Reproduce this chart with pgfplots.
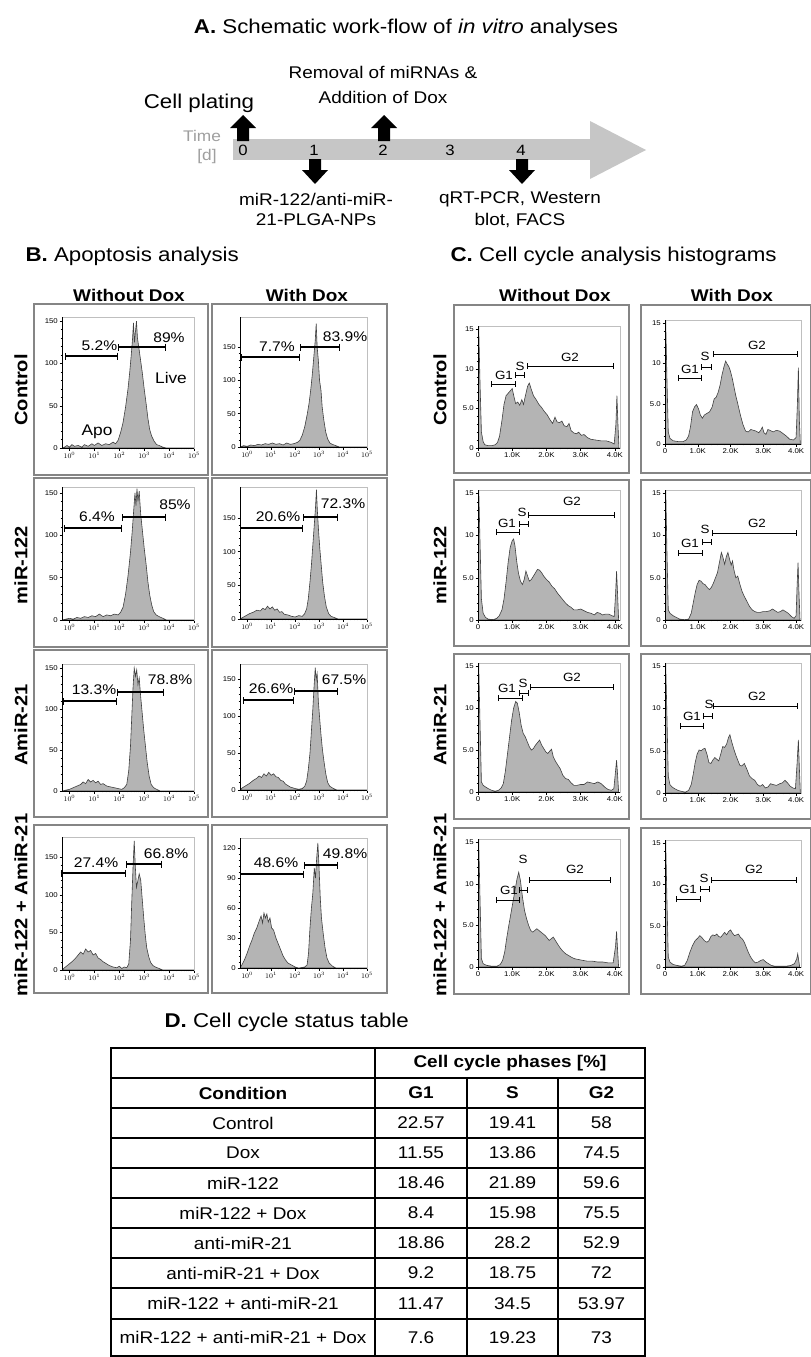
\documentclass[border=0pt]{standalone}
\usepackage{fontspec}
\setmainfont{Liberation Sans}[FakeStretch=1.12]
\usepackage{pgfplots}
\pgfplotsset{compat=1.18}
\usetikzlibrary{arrows.meta}
\definecolor{histfill}{HTML}{B4B4B4}
\definecolor{histline}{HTML}{404040}
\definecolor{boxgray}{HTML}{858585}
\definecolor{bandgray}{HTML}{C6C6C6}
\newcommand\fs[1]{\fontsize{#1}{#1}\selectfont}
\newcommand\blackaxes{\draw[black,line width=0.5pt] (rel axis cs:0,1) -- (rel axis cs:0,0) -- (rel axis cs:1,0);}
\pgfplotsset{
  hbase/.style={scale only axis, anchor=south west,
    axis line style={gray!50,line width=0.4pt},
    tick pos=left, tick align=outside,
    major tick length=2.5bp, minor tick length=1.4bp,
    tick style={black,line width=0.4pt},
    tick label style={font=\fs{7}, inner sep=1.5pt}},
  flowB/.style={hbase, xmin=-0.3, xmax=5.0, ymin=0,
    xtick={0,1,2,3,4,5},
    xticklabels={$10^{0}$,$10^{1}$,$10^{2}$,$10^{3}$,$10^{4}$,$10^{5}$},
    minor xtick={0.301,0.477,0.602,0.699,0.778,0.845,0.903,0.954,1.301,1.477,1.602,1.699,1.778,1.845,1.903,1.954,2.301,2.477,2.602,2.699,2.778,2.845,2.903,2.954,3.301,3.477,3.602,3.699,3.778,3.845,3.903,3.954,4.301,4.477,4.602,4.699,4.778,4.845,4.903,4.954},
    minor y tick num=4},
  cycC/.style={hbase, xmin=0, xmax=4.15, ymin=0, ymax=15.4,
    xtick={0,1,2,3,4}, xticklabels={0,1.0K,2.0K,3.0K,4.0K},
    ytick={0,5,10,15}, yticklabels={0,5.0,10,15},
    minor x tick num=4, minor y tick num=4},
  histo/.style={fill=histfill, draw=histline, line width=0.6pt},
}
\begin{document}
\begin{tikzpicture}
\useasboundingbox (0,0) rectangle (811bp,-1357bp);
\fill[white] (0,0) rectangle (811bp,-1357bp);
\begin{scope}[x=1bp,y=-1bp]
% ---------- A: schematic ----------
\node[font=\fs{20}] at (406,28) {\textbf{A.} Schematic work-flow of \textit{in vitro} analyses};
\fill[bandgray] (233,139) rectangle (591,160);
\fill[bandgray] (590,121) -- (646,150) -- (590,179) -- cycle;
\foreach \cx in {243,384} {
  \fill[black] (\cx-6,141) -- (\cx-6,128) -- (\cx-13,128) -- (\cx,115) -- (\cx+13,128) -- (\cx+6,128) -- (\cx+6,141) -- cycle;}
\foreach \cx in {315,522} {
  \fill[black] (\cx-6,159) -- (\cx-6,170) -- (\cx-13,170) -- (\cx,184) -- (\cx+13,170) -- (\cx+6,170) -- (\cx+6,159) -- cycle;}
\node[font=\fs{17}] at (383,72) {Removal of miRNAs \&};
\node[font=\fs{17}] at (383,97) {Addition of Dox};
\node[font=\fs{20}] at (199,103) {Cell plating};
\node[font=\fs{15.5}, text=gray!75] at (202,136) {Time};
\node[font=\fs{15.5}, text=gray!75] at (207,157) {[d]};
\node[font=\fs{15}] at (243,150) {0};
\node[font=\fs{15}] at (314,150) {1};
\node[font=\fs{15}] at (383,150) {2};
\node[font=\fs{15}] at (450,150) {3};
\node[font=\fs{15}] at (521,150) {4};
\node[font=\fs{17}] at (316,199) {miR-122/anti-miR-};
\node[font=\fs{17}] at (316,220) {21-PLGA-NPs};
\node[font=\fs{17}] at (520,199) {qRT-PCR, Western};
\node[font=\fs{17}] at (520,220) {blot, FACS};
% ---------- B / C headers ----------
\node[font=\fs{20}, anchor=west] at (22,256) {\textbf{B.} Apoptosis analysis};
\node[font=\fs{20}, anchor=west] at (447,256) {\textbf{C.} Cell cycle analysis histograms};
\node[font=\bfseries\fs{17}] at (129,295) {Without Dox};
\node[font=\bfseries\fs{17}] at (307,295) {With Dox};
\node[font=\bfseries\fs{17}] at (555,295) {Without Dox};
\node[font=\bfseries\fs{17}] at (732,295) {With Dox};
\foreach \xx in {21,440} {
\node[rotate=90, font=\bfseries\fs{18}] at (\xx,390) {Control};
\node[rotate=90, font=\bfseries\fs{18}] at (\xx,565) {miR-122};
\node[rotate=90, font=\bfseries\fs{18}] at (\xx,725) {AmiR-21};
\node[rotate=90, font=\bfseries\fs{18}] at (\xx,905) {miR-122 + AmiR-21};}
% panel boxes
\foreach \ya/\yb in {304/475,478/647,650/817,825/993} {
  \draw[boxgray, line width=1.3] (34,\ya) rectangle (208,\yb);
  \draw[boxgray, line width=1.3] (212,\ya) rectangle (387,\yb);}
\foreach \ya/\yb in {305/473,480/646,654/819,828/994} {
  \draw[boxgray, line width=1.3] (454,\ya) rectangle (629,\yb);
  \draw[boxgray, line width=1.3] (641,\ya) rectangle (810.3,\yb);}
% ---------- D: table ----------
\node[font=\fs{20}, anchor=west] at (161,1022) {\textbf{D.} Cell cycle status table};
\draw[black, line width=1.5] (111,1048) rectangle (645,1356);
\foreach \yy in {1078,1108,1138,1168,1198,1228,1258,1288,1319} {\draw[black, line width=1.5] (111,\yy) -- (645,\yy);}
\draw[black, line width=1.5] (375,1048) -- (375,1356);
\draw[black, line width=1.5] (467,1078) -- (467,1356);
\draw[black, line width=1.5] (558,1078) -- (558,1356);
\node[font=\bfseries\fs{17}] at (510,1063) {Cell cycle phases [\%]};
\node[font=\bfseries\fs{17}] at (243,1093) {Condition};
\node[font=\bfseries\fs{17}] at (421,1093) {G1};
\node[font=\bfseries\fs{17}] at (512.5,1093) {S};
\node[font=\bfseries\fs{17}] at (601.5,1093) {G2};
\foreach \yy/\c/\a/\b/\d in {1123/Control/22.57/19.41/58, 1153/Dox/11.55/13.86/74.5, 1183/miR-122/18.46/21.89/59.6, 1213/miR-122 + Dox/8.4/15.98/75.5, 1243/anti-miR-21/18.86/28.2/52.9, 1273/anti-miR-21 + Dox/9.2/18.75/72, 1303.5/miR-122 + anti-miR-21/11.47/34.5/53.97, 1337.5/miR-122 + anti-miR-21 + Dox/7.6/19.23/73} {
  \node[font=\fs{17}] at (243,\yy) {\c};
  \node[font=\fs{17}] at (421,\yy) {\a};
  \node[font=\fs{17}] at (512.5,\yy) {\b};
  \node[font=\fs{17}] at (601.5,\yy) {\d};}
\end{scope}

% ================= B histograms =================
\begin{axis}[flowB, at={(62bp,-448bp)}, width=132bp, height=131bp, ymax=155, ytick={0,50,100,150}, yticklabels={0,50,100,150}]
\addplot[histo] coordinates {(-0.3,0) (-0.2,1) (-0.1,3) (0,1) (0.1,4) (0.2,2) (0.35,3) (0.5,1) (0.6,4) (0.75,2) (0.9,5) (1.0,3) (1.15,6) (1.3,3) (1.45,5) (1.6,4) (1.75,7) (1.85,5) (1.95,9) (2.05,18) (2.15,30) (2.25,48) (2.35,70) (2.42,90) (2.48,110) (2.53,128) (2.57,148) (2.61,125) (2.65,138) (2.69,150) (2.73,130) (2.78,120) (2.85,105) (2.92,90) (3.0,70) (3.08,52) (3.15,35) (3.22,22) (3.3,14) (3.4,8) (3.5,4) (3.6,3) (3.75,1) (3.9,0) (5.0,0)} \closedcycle;
\blackaxes
\end{axis}
\begin{axis}[flowB, at={(240bp,-447bp)}, width=127bp, height=130bp, ymax=195, ytick={0,50,100,150}, yticklabels={0,50,100,150}]
\addplot[histo] coordinates {(-0.3,0) (-0.15,2) (0,1) (0.15,3) (0.3,2) (0.45,4) (0.6,3) (0.75,5) (0.9,4) (1.05,6) (1.2,4) (1.35,5) (1.5,3) (1.65,6) (1.8,4) (1.95,5) (2.1,7) (2.2,10) (2.3,18) (2.4,30) (2.5,48) (2.58,65) (2.65,85) (2.72,110) (2.78,135) (2.84,160) (2.88,185) (2.92,150) (2.97,130) (3.02,100) (3.08,85) (3.13,60) (3.2,40) (3.28,22) (3.36,12) (3.45,6) (3.55,4) (3.7,2) (3.85,0) (5.0,0)} \closedcycle;
\blackaxes
\end{axis}
\begin{axis}[flowB, at={(62bp,-620bp)}, width=132bp, height=133bp, ymax=157, ytick={0,50,100,150}, yticklabels={0,50,100,150}]
\addplot[histo] coordinates {(-0.3,0) (-0.15,1) (0,2) (0.15,1) (0.3,3) (0.45,2) (0.6,4) (0.75,3) (0.9,5) (1.05,4) (1.2,7) (1.35,4) (1.5,6) (1.65,5) (1.8,7) (1.95,6) (2.05,9) (2.15,15) (2.25,30) (2.35,52) (2.45,80) (2.52,105) (2.58,130) (2.63,150) (2.67,135) (2.71,155) (2.75,140) (2.8,152) (2.86,125) (2.93,105) (3.0,85) (3.08,65) (3.15,45) (3.22,30) (3.3,18) (3.38,10) (3.48,6) (3.6,4) (3.75,2) (3.9,0) (5.0,0)} \closedcycle;
\blackaxes
\end{axis}
\begin{axis}[flowB, at={(240bp,-619bp)}, width=127bp, height=132bp, ymax=196, ytick={0,50,100,150}, yticklabels={0,50,100,150}]
\addplot[histo] coordinates {(-0.3,0) (-0.2,2) (-0.05,5) (0.1,8) (0.25,10) (0.4,13) (0.55,12) (0.65,16) (0.75,14) (0.85,19) (0.95,15) (1.05,18) (1.15,13) (1.25,15) (1.35,10) (1.45,11) (1.55,7) (1.7,6) (1.85,4) (2.0,3) (2.15,5) (2.3,4) (2.4,8) (2.48,15) (2.55,30) (2.62,55) (2.68,80) (2.74,110) (2.8,140) (2.85,165) (2.89,192) (2.93,160) (2.98,130) (3.03,105) (3.09,80) (3.15,55) (3.22,35) (3.3,18) (3.4,8) (3.5,4) (3.65,2) (3.8,0) (5.0,0)} \closedcycle;
\blackaxes
\end{axis}
\begin{axis}[flowB, at={(62bp,-791bp)}, width=132bp, height=127bp, ymax=155, ytick={0,50,100,150}, yticklabels={0,50,100,150}]
\addplot[histo] coordinates {(-0.3,0) (-0.15,1) (0,2) (0.15,4) (0.3,6) (0.45,8) (0.55,11) (0.65,9) (0.75,14) (0.85,11) (0.95,13) (1.05,10) (1.15,12) (1.25,8) (1.35,9) (1.5,6) (1.65,5) (1.8,4) (1.95,3) (2.1,2) (2.2,4) (2.3,8) (2.38,25) (2.45,55) (2.5,90) (2.55,125) (2.6,150) (2.65,140) (2.7,148) (2.75,130) (2.8,138) (2.86,115) (2.92,95) (2.98,75) (3.05,55) (3.12,35) (3.2,18) (3.28,8) (3.38,4) (3.5,2) (3.65,0) (5.0,0)} \closedcycle;
\blackaxes
\end{axis}
\begin{axis}[flowB, at={(240bp,-790bp)}, width=127bp, height=126bp, ymax=171, ytick={0,50,100,150}, yticklabels={0,50,100,150}]
\addplot[histo] coordinates {(-0.3,0) (-0.2,3) (-0.05,6) (0.1,9) (0.25,13) (0.4,16) (0.5,19) (0.6,17) (0.7,22) (0.8,19) (0.9,24) (1.0,20) (1.1,22) (1.2,18) (1.3,17) (1.4,13) (1.5,12) (1.6,8) (1.7,6) (1.8,4) (1.9,3) (2.0,2) (2.15,1) (2.3,2) (2.4,5) (2.48,12) (2.55,28) (2.62,50) (2.68,80) (2.74,110) (2.79,140) (2.84,166) (2.88,150) (2.92,158) (2.97,120) (3.03,95) (3.08,75) (3.14,55) (3.2,40) (3.28,22) (3.36,10) (3.45,5) (3.6,2) (3.75,0) (5.0,0)} \closedcycle;
\blackaxes
\end{axis}
\begin{axis}[flowB, at={(62bp,-970bp)}, width=132bp, height=133bp, ymax=177, ytick={0,50,100,150}, yticklabels={0,50,100,150}]
\addplot[histo] coordinates {(-0.3,0) (-0.2,3) (-0.05,7) (0.1,11) (0.25,16) (0.35,20) (0.45,24) (0.55,21) (0.65,28) (0.75,24) (0.85,26) (0.95,20) (1.05,22) (1.15,16) (1.25,14) (1.35,11) (1.45,9) (1.6,6) (1.75,4) (1.9,3) (2.0,5) (2.1,2) (2.2,4) (2.3,3) (2.38,8) (2.45,40) (2.5,90) (2.55,135) (2.6,172) (2.64,140) (2.69,110) (2.74,118) (2.8,128) (2.86,120) (2.92,95) (2.98,70) (3.04,48) (3.1,30) (3.18,18) (3.26,10) (3.35,6) (3.45,4) (3.6,2) (3.75,0) (5.0,0)} \closedcycle;
\blackaxes
\end{axis}
\begin{axis}[flowB, at={(240bp,-968bp)}, width=127bp, height=130bp, ymax=130, ytick={0,30,60,90,120}, yticklabels={0,30,60,90,120}]
\addplot[histo] coordinates {(-0.3,0) (-0.2,4) (-0.1,9) (0.0,15) (0.1,22) (0.2,28) (0.3,35) (0.4,40) (0.5,47) (0.58,52) (0.64,45) (0.7,55) (0.76,50) (0.82,54) (0.88,46) (0.95,50) (1.02,40) (1.1,38) (1.2,30) (1.3,24) (1.4,18) (1.5,12) (1.6,8) (1.7,5) (1.85,3) (2.0,1) (2.15,0) (2.4,1) (2.5,3) (2.56,15) (2.62,40) (2.68,60) (2.74,75) (2.8,100) (2.85,90) (2.9,110) (2.95,125) (3.0,100) (3.05,70) (3.1,50) (3.17,35) (3.25,20) (3.33,10) (3.42,5) (3.55,2) (3.7,0) (5.0,0)} \closedcycle;
\blackaxes
\end{axis}

% ================= C histograms =================
\begin{axis}[cycC, at={(478bp,-448bp)}, width=142bp, height=122bp]
\addplot[histo] coordinates {(0,0) (0.02,15.5) (0.06,8) (0.1,2) (0.15,0.8) (0.2,0.4) (0.3,0.3) (0.4,0.3) (0.5,0.4) (0.57,0.7) (0.63,1.5) (0.7,3.5) (0.76,5.5) (0.82,6.6) (0.9,7.0) (0.96,7.3) (1.0,7.5) (1.05,6.5) (1.1,5.6) (1.16,5.8) (1.22,5.4) (1.28,6.1) (1.33,5.5) (1.38,6.5) (1.45,7.8) (1.5,8.2) (1.55,7.5) (1.62,6.6) (1.7,6.1) (1.78,5.5) (1.86,5.1) (1.94,4.6) (2.02,4.2) (2.1,3.6) (2.18,3.1) (2.25,3.9) (2.31,3.3) (2.38,3.2) (2.45,3.4) (2.52,2.8) (2.6,2.7) (2.66,3.1) (2.72,2.2) (2.8,1.9) (2.88,1.8) (2.94,2.0) (3.02,1.6) (3.1,1.7) (3.2,1.3) (3.3,1.1) (3.45,1.0) (3.6,0.9) (3.75,0.9) (3.9,0.7) (3.98,0.5) (4.03,3.0) (4.06,6.6) (4.09,3.0) (4.12,0)} \closedcycle;
\blackaxes
\end{axis}
\begin{axis}[cycC, at={(665bp,-444bp)}, width=136bp, height=124bp]
\addplot[histo] coordinates {(0,0) (0.02,15.5) (0.06,8) (0.1,1.5) (0.15,0.7) (0.25,0.4) (0.4,0.3) (0.55,0.3) (0.65,0.5) (0.72,1.0) (0.78,2.2) (0.84,4.0) (0.9,4.6) (0.96,4.9) (1.02,4.4) (1.08,3.6) (1.14,3.2) (1.2,3.6) (1.28,3.8) (1.36,4.0) (1.44,4.6) (1.5,5.6) (1.56,5.8) (1.62,6.4) (1.68,7.3) (1.74,8.6) (1.8,9.6) (1.85,10.3) (1.9,9.9) (1.95,9.6) (2.0,9.0) (2.05,8.2) (2.1,7.2) (2.16,6.0) (2.22,5.0) (2.3,3.6) (2.38,2.4) (2.46,1.6) (2.54,1.5) (2.62,1.8) (2.7,1.7) (2.78,1.6) (2.86,1.4) (2.92,1.7) (2.97,2.1) (3.02,1.4) (3.08,1.2) (3.14,1.8) (3.2,1.7) (3.3,1.5) (3.4,1.7) (3.5,1.6) (3.6,1.3) (3.7,1.0) (3.8,0.6) (3.92,0.5) (4.0,0.8) (4.04,5) (4.07,9.5) (4.1,3) (4.13,0)} \closedcycle;
\blackaxes
\end{axis}
\begin{axis}[cycC, at={(478bp,-620bp)}, width=142bp, height=130bp]
\addplot[histo] coordinates {(0,0) (0.02,16) (0.06,9) (0.1,2.5) (0.15,0.8) (0.22,0.3) (0.3,0.1) (0.45,0.05) (0.55,0.2) (0.62,0.5) (0.7,1.2) (0.76,2.5) (0.82,4.5) (0.88,6.8) (0.94,8.6) (1.0,9.4) (1.04,9.6) (1.08,8.8) (1.13,7.0) (1.18,5.6) (1.24,4.6) (1.3,4.2) (1.35,4.8) (1.4,5.8) (1.45,5.2) (1.5,4.6) (1.56,4.8) (1.62,5.2) (1.68,5.6) (1.74,6.0) (1.8,5.9) (1.86,5.6) (1.92,5.2) (2.0,4.8) (2.08,4.5) (2.16,4.0) (2.24,3.7) (2.32,3.2) (2.4,2.8) (2.48,2.4) (2.56,2.0) (2.64,1.7) (2.72,1.5) (2.8,1.2) (2.9,1.2) (3.0,1.3) (3.1,1.1) (3.2,0.9) (3.3,0.8) (3.4,0.6) (3.48,0.9) (3.56,0.8) (3.64,0.6) (3.72,0.7) (3.82,0.7) (3.92,0.5) (3.98,0.4) (4.02,3) (4.05,5.8) (4.08,3) (4.11,0)} \closedcycle;
\blackaxes
\end{axis}
\begin{axis}[cycC, at={(665bp,-620bp)}, width=136bp, height=130bp]
\addplot[histo] coordinates {(0,0) (0.02,16) (0.06,8) (0.1,1.2) (0.15,0.8) (0.25,0.5) (0.35,0.3) (0.45,0.1) (0.6,0.05) (0.72,0.1) (0.8,0.8) (0.86,2.0) (0.92,3.2) (0.98,4.2) (1.04,4.7) (1.1,4.6) (1.16,4.3) (1.22,4.2) (1.3,3.8) (1.36,3.6) (1.42,3.9) (1.48,4.4) (1.54,5.0) (1.6,5.6) (1.66,6.8) (1.72,8.0) (1.77,7.4) (1.82,6.6) (1.87,7.5) (1.92,8.0) (1.97,7.2) (2.02,6.5) (2.06,7.0) (2.1,6.0) (2.16,5.0) (2.22,5.2) (2.28,4.3) (2.35,3.4) (2.42,2.8) (2.5,2.2) (2.58,1.6) (2.66,1.2) (2.74,1.0) (2.82,0.9) (2.9,0.9) (3.0,1.0) (3.1,1.0) (3.2,1.1) (3.28,1.3) (3.36,1.1) (3.44,0.9) (3.52,1.0) (3.6,1.2) (3.68,1.0) (3.76,0.8) (3.86,0.4) (3.94,0.2) (4.0,0.5) (4.03,4) (4.06,6.8) (4.09,3) (4.12,0)} \closedcycle;
\blackaxes
\end{axis}
\begin{axis}[cycC, at={(478bp,-792bp)}, width=142bp, height=129bp]
\addplot[histo] coordinates {(0,0) (0.02,15.5) (0.06,8) (0.1,1.2) (0.15,0.8) (0.22,0.6) (0.3,0.4) (0.4,0.2) (0.5,0.1) (0.6,0.2) (0.68,0.5) (0.74,1.0) (0.8,2.5) (0.86,4.5) (0.92,6.5) (0.98,8.5) (1.04,10.0) (1.1,10.8) (1.15,10.6) (1.2,9.6) (1.26,8.0) (1.32,7.0) (1.38,6.6) (1.44,6.0) (1.5,5.4) (1.56,5.0) (1.62,5.2) (1.68,5.6) (1.74,5.9) (1.8,6.2) (1.86,5.6) (1.92,5.2) (1.98,4.8) (2.04,4.6) (2.1,4.9) (2.15,5.1) (2.2,4.2) (2.26,3.7) (2.32,3.3) (2.4,2.8) (2.48,2.0) (2.56,1.6) (2.64,1.5) (2.72,1.1) (2.8,0.8) (2.9,0.8) (3.0,0.9) (3.1,0.9) (3.2,1.2) (3.3,1.1) (3.4,1.0) (3.5,1.2) (3.6,1.0) (3.7,0.6) (3.8,0.3) (3.9,0.2) (3.97,0.4) (4.02,2.5) (4.05,3.8) (4.08,2) (4.11,0)} \closedcycle;
\blackaxes
\end{axis}
\begin{axis}[cycC, at={(665bp,-793bp)}, width=136bp, height=130bp]
\addplot[histo] coordinates {(0,0) (0.02,15.5) (0.06,9) (0.1,2.0) (0.15,1.0) (0.22,0.7) (0.3,0.5) (0.4,0.3) (0.5,0.2) (0.62,0.1) (0.72,0.3) (0.8,1.0) (0.86,2.2) (0.92,3.6) (0.98,4.6) (1.04,5.1) (1.1,5.0) (1.16,5.2) (1.22,5.3) (1.28,4.6) (1.34,3.6) (1.4,3.5) (1.46,3.9) (1.52,4.2) (1.58,4.0) (1.64,3.8) (1.7,4.6) (1.76,5.5) (1.82,5.4) (1.88,5.8) (1.94,6.6) (1.98,6.9) (2.04,6.0) (2.1,5.2) (2.16,4.5) (2.22,3.9) (2.28,3.3) (2.34,3.2) (2.42,3.5) (2.5,2.8) (2.58,2.0) (2.66,1.7) (2.74,1.5) (2.82,1.0) (2.9,0.8) (2.98,1.0) (3.06,0.6) (3.14,0.7) (3.22,1.1) (3.3,1.0) (3.4,0.9) (3.5,1.1) (3.58,1.2) (3.66,1.5) (3.74,1.2) (3.82,0.8) (3.9,0.6) (3.98,0.5) (4.03,3.5) (4.07,6.3) (4.1,3) (4.13,0)} \closedcycle;
\blackaxes
\end{axis}
\begin{axis}[cycC, at={(478bp,-967bp)}, width=142bp, height=128bp]
\addplot[histo] coordinates {(0,0) (0.02,15.5) (0.06,8) (0.1,1.0) (0.15,0.4) (0.25,0.2) (0.4,0.1) (0.55,0.1) (0.65,0.3) (0.72,0.8) (0.78,1.8) (0.84,3.5) (0.9,5.0) (0.96,6.4) (1.02,7.8) (1.08,9.2) (1.14,10.6) (1.19,11.4) (1.24,10.4) (1.3,8.4) (1.36,6.8) (1.42,5.8) (1.48,5.0) (1.54,4.4) (1.6,4.2) (1.66,4.4) (1.72,4.6) (1.78,4.4) (1.84,4.2) (1.9,4.0) (1.96,3.8) (2.02,3.5) (2.08,3.2) (2.14,3.4) (2.2,3.6) (2.26,3.2) (2.32,2.8) (2.4,2.3) (2.48,1.9) (2.56,1.6) (2.64,1.4) (2.72,1.2) (2.82,1.0) (2.94,0.9) (3.06,0.8) (3.2,0.7) (3.35,0.7) (3.5,0.6) (3.65,0.6) (3.8,0.5) (3.95,0.5) (4.02,2.5) (4.05,4.3) (4.08,2) (4.11,0)} \closedcycle;
\blackaxes
\end{axis}
\begin{axis}[cycC, at={(665bp,-967bp)}, width=136bp, height=127bp]
\addplot[histo] coordinates {(0,0) (0.02,15.5) (0.06,8) (0.1,1.2) (0.15,0.6) (0.25,0.3) (0.35,0.2) (0.5,0.1) (0.6,0.2) (0.68,0.8) (0.76,1.8) (0.84,2.6) (0.92,3.2) (1.0,3.5) (1.06,3.8) (1.12,3.6) (1.2,3.2) (1.28,3.0) (1.34,3.2) (1.4,3.7) (1.46,3.9) (1.52,3.8) (1.58,4.0) (1.64,3.7) (1.7,3.6) (1.76,3.9) (1.82,4.2) (1.88,3.9) (1.94,4.3) (2.0,4.5) (2.06,4.1) (2.12,3.8) (2.18,3.9) (2.24,4.0) (2.3,3.6) (2.36,3.4) (2.42,3.0) (2.48,2.4) (2.54,1.8) (2.6,1.3) (2.68,0.8) (2.76,0.5) (2.84,0.6) (2.92,0.8) (3.0,0.9) (3.08,0.6) (3.16,0.4) (3.24,0.2) (3.35,0.1) (3.5,0.1) (3.7,0.1) (3.85,0.2) (3.95,0.4) (4.02,1.0) (4.05,1.6) (4.08,0.8) (4.11,0)} \closedcycle;
\blackaxes
\end{axis}

% ================= gates and labels =================
\begin{scope}[x=1bp,y=-1bp]
\tikzset{gB/.style={{Bar[width=7bp]}-{Bar[width=7bp]}, line width=1.1bp},
         gC/.style={{Bar[width=6bp]}-{Bar[width=6bp]}, line width=1bp}}
\foreach \xa/\xb/\ya/\xc/\yb/\la/\lax/\lay/\lb/\lbx/\lby in {
  65/118/356/166/347/5.2\%/99.5/346/89\%/169/337.5,
  241/300/357/340/347/7.7\%/277/347/83.9\%/345/337,
  64/122/528/166/517/6.4\%/97/517/85\%/175/505,
  240/303/528/338/517/20.6\%/278/517/72.3\%/343/504,
  63/117/701/164/692/13.3\%/94/690/78.8\%/170/680,
  243/294/700/338/691/26.6\%/271/689/67.5\%/344/680,
  61/126/873/162/864/27.4\%/96/863/66.8\%/166/854,
  240/304/874/338/865/48.6\%/276/863/49.8\%/345/854} {
  \draw[gB] (\xa,\ya) -- (\xb,\ya);
  \draw[gB] (\xb,\yb) -- (\xc,\yb);
  \node[font=\fs{14}] at (\lax,\lay) {\la};
  \node[font=\fs{14}] at (\lbx,\lby) {\lb};}
\node[font=\fs{15.5}] at (171,378) {Live};
\node[font=\fs{15.5}] at (97,432) {Apo};
\foreach \ga/\gb/\gy/\gx/\gly/\sa/\sb/\sy/\sx/\sly/\ha/\hb/\hy/\hx/\hly in {
  491/516/384/504/375/515/525/375/520/366/527/614/366/570/357,
  678/702/378/690/369/701/712/367/705/356/713/798/354/757/345,
  496/520/532/507/523/519/529/524/522/512/528/615/515/572/501,
  678/703/553/690/543/702/712/542/705/529/712/797/533/757/523,
  498/523/698/507/688/519/529/693/523/683/530/614/687/572/677,
  680/704/726/692/716/703/713/716/709/704/713/798/706/757/696,
  496/520/900/509/890/519/528/890/523/859/529/611/880/575/869,
  676/701/899/688/889/700/710/889/704/878/711/797/880/754/869} {
  \draw[gC] (\ga,\gy) -- (\gb,\gy);
  \draw[gC] (\sa,\sy) -- (\sb,\sy);
  \draw[gC] (\ha,\hy) -- (\hb,\hy);
  \node[font=\fs{12}] at (\gx,\gly) {G1};
  \node[font=\fs{12}] at (\sx,\sly) {S};
  \node[font=\fs{12}] at (\hx,\hly) {G2};}
\end{scope}
\end{tikzpicture}
\end{document}
